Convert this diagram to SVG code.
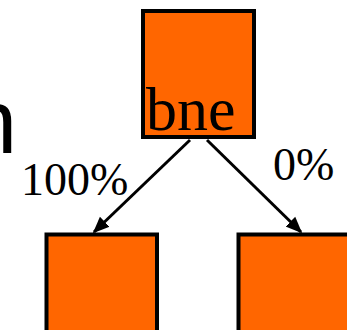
<svg xmlns="http://www.w3.org/2000/svg" width="347" height="330" viewBox="0 0 347 330">
  <style>
    .box { fill: #ff6600; stroke: #000; stroke-width: 4; }
    .edge { stroke: #000; stroke-width: 3; fill: none; }
    .serif { font-family: "Liberation Serif", "Times New Roman", serif; fill: #000; }
    .sans { font-family: "Liberation Sans", Arial, sans-serif; fill: #000; }
  </style>
  <defs>
    <marker id="arrow" viewBox="0 0 10 10" refX="9" refY="5" markerWidth="5.5" markerHeight="5.5" orient="auto" markerUnits="strokeWidth">
      <path d="M0,0.8 L10,5 L0,9.2 z" fill="#000"/>
    </marker>
  </defs>
  <rect width="347" height="330" fill="#fff"/>

  <!-- partial heading letter at the left edge -->
  <text class="sans" x="-33" y="153" font-size="90">n</text>

  <g id="connectors">
    <line class="edge" x1="190" y1="140" x2="94" y2="232" marker-end="url(#arrow)"/>
    <line class="edge" x1="207" y1="140" x2="301" y2="232" marker-end="url(#arrow)"/>
    <text class="serif" x="21" y="195" font-size="46">100%</text>
    <text class="serif" x="273" y="180" font-size="46">0%</text>
  </g>

  <g id="node-root">
    <rect class="box" x="143" y="11" width="111" height="126"/>
    <text class="serif" x="146" y="130" font-size="62">bne</text>
  </g>
  <g id="node-left">
    <rect class="box" x="46.5" y="234.5" width="110.5" height="100"/>
  </g>
  <g id="node-right">
    <rect class="box" x="238.5" y="234.5" width="120" height="100"/>
  </g>
</svg>
